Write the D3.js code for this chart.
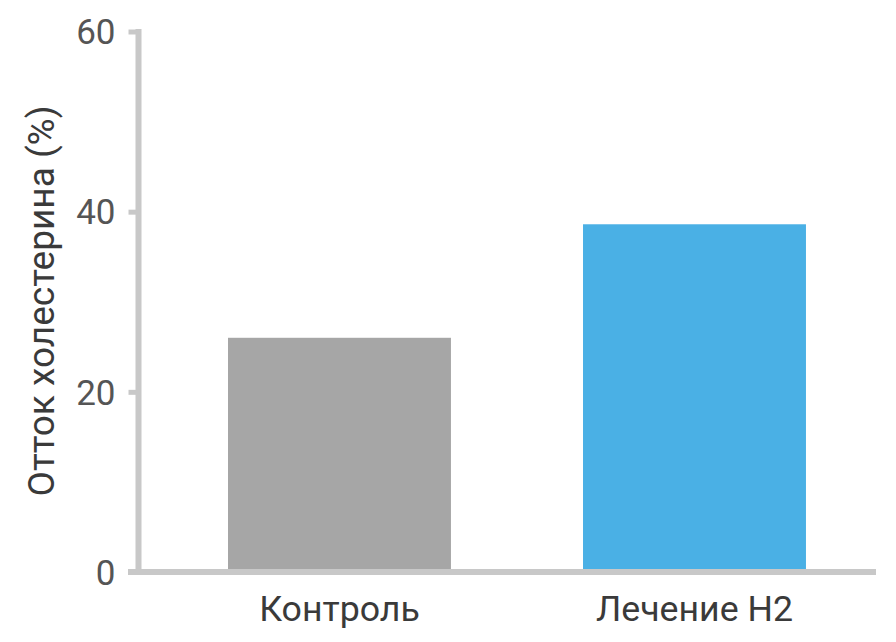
<!DOCTYPE html>
<html>
<head>
<meta charset="utf-8">
<script src="https://cdn.jsdelivr.net/npm/d3@7"></script>
<style>
  body { margin: 0; background: #fff; }
  text { font-family: Roboto, "Noto Sans", sans-serif; }
</style>
</head>
<body>
<div id="chart"></div>
<script>
// chart data
const categories = ["Контроль", "Лечение H2"];
const values = [26, 38.6];
const barColors = ["#a6a6a6", "#4ab0e5"];
const yTicks = [0, 20, 40, 60];
const yTitle = "Отток холестерина (%)";

const width = 896;
const height = 642;
const margin = { top: 31.5, right: 20, bottom: 70, left: 138.5 };

const svg = d3
  .select("#chart")
  .append("svg")
  .attr("width", width)
  .attr("height", height);

const x = d3
  .scaleBand()
  .domain(categories)
  .range([margin.left, 876])
  .paddingInner(0.372)
  .paddingOuter(0.2247)
  .align(0.561);

const y = d3
  .scaleLinear()
  .domain([0, 60])
  .range([572, margin.top]);

// bars (stop at top of the x axis line)
svg
  .selectAll("rect.bar")
  .data(values)
  .enter()
  .append("rect")
  .attr("class", "bar")
  .attr("x", (d, i) => x(categories[i]))
  .attr("width", x.bandwidth())
  .attr("y", d => y(d))
  .attr("height", d => y(0) - 3 - y(d))
  .attr("fill", (d, i) => barColors[i]);

// y axis
const yAxis = svg
  .append("g")
  .attr("transform", "translate(" + margin.left + ",0)")
  .call(
    d3.axisLeft(y)
      .tickValues(yTicks)
      .tickSize(10)
      .tickPadding(13)
      .tickFormat(d3.format("d"))
  );
yAxis.select(".domain").remove();
yAxis
  .append("line")
  .attr("x1", 0)
  .attr("x2", 0)
  .attr("y1", y(60) - 2.5)
  .attr("y2", y(0))
  .attr("stroke", "#c8c8c8")
  .attr("stroke-width", 6);
yAxis.selectAll(".tick line").attr("stroke", "#c8c8c8").attr("stroke-width", 5);
yAxis
  .selectAll(".tick text")
  .attr("fill", "#555")
  .style("font-size", "35px")
  .attr("dy", "0.35em");
yAxis.selectAll(".tick").filter(d => d === 0).select("line").remove();

// x axis
const xAxis = svg
  .append("g")
  .attr("transform", "translate(0,572)")
  .call(d3.axisBottom(x).tickSize(0).tickPadding(24));
xAxis.select(".domain").remove();
xAxis
  .append("line")
  .attr("x1", 128)
  .attr("x2", 876)
  .attr("stroke", "#c8c8c8")
  .attr("stroke-width", 6);
xAxis
  .selectAll(".tick text")
  .attr("fill", "#3a3a3a")
  .style("font-size", "35.7px")
  .attr("dy", "0.71em");

// y axis title
svg
  .append("text")
  .attr("transform", "translate(54,301) rotate(-90)")
  .attr("text-anchor", "middle")
  .attr("fill", "#3a3a3a")
  .style("font-size", "37px")
  .text(yTitle);
</script>
</body>
</html>
